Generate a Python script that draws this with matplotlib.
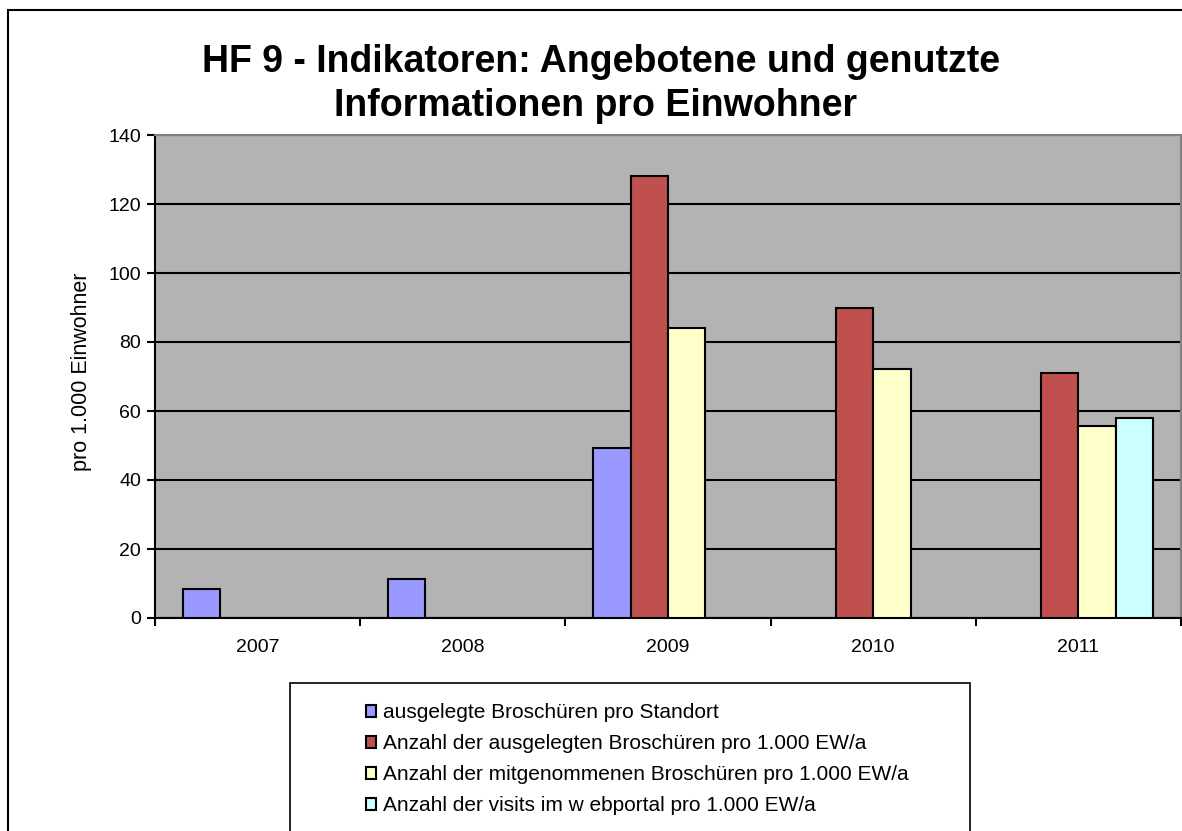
import numpy as np
import matplotlib
matplotlib.use("Agg")
from matplotlib import pyplot as plt
from matplotlib.patches import Rectangle

plt.rcParams['font.family'] = ['Liberation Sans', 'DejaVu Sans']

years = ['2007', '2008', '2009', '2010', '2011']
standort = [8.5, 11.3, 49.4, 0, 0]
ausgelegt = [0, 0, 128.0, 89.9, 71.1]
mitgenommen = [0, 0, 84.2, 72.2, 55.7]
visits = [0, 0, 0, 0, 58.0]

labels = ['ausgelegte Broschüren pro Standort',
          'Anzahl der ausgelegten Broschüren pro 1.000 EW/a',
          'Anzahl der mitgenommenen Broschüren pro 1.000 EW/a',
          'Anzahl der visits im w ebportal pro 1.000 EW/a']
colors = ['#9999FF', '#C0504D', '#FFFFCC', '#CCFFFF']
series = [standort, ausgelegt, mitgenommen, visits]

W, H = 1182, 831
fig = plt.figure(figsize=(W / 100, H / 100), dpi=100)
ax = fig.add_axes([155 / W, 1 - 618 / H, (1181 - 155) / W, (618 - 135) / H])
ax.set_facecolor('#B3B3B3')

x = np.arange(len(years))
w = 1 / 5.5
handles = []
for i, (vals, c, lab) in enumerate(zip(series, colors, labels)):
    vals = np.array(vals, dtype=float)
    mask = vals > 0
    b = ax.bar(x[mask] + (i - 1.5) * w, vals[mask], width=w, color=c,
               edgecolor='black', linewidth=1.5, zorder=3, label=lab)
    handles.append(b)

ax.set_xlim(-0.5, 4.5)
ax.set_ylim(0, 140)
ax.set_yticks(np.arange(0, 141, 20))
ax.yaxis.grid(True, color='black', linewidth=1.5, zorder=1)
ax.set_axisbelow(True)

# category ticks between the groups, year labels in the middle
ax.set_xticks(np.arange(-0.5, 5, 1))
ax.set_xticklabels([])
ax.set_xticks(x, minor=True)
ax.set_xticklabels(years, minor=True)
ax.tick_params(axis='x', which='minor', length=0, pad=15, labelsize=14)
ax.tick_params(axis='x', which='major', length=6, width=1.5, direction='out')
ax.tick_params(axis='y', length=6, width=1.5, direction='out', labelsize=14, pad=4)

ax.spines['left'].set_linewidth(1.5)
ax.spines['bottom'].set_linewidth(1.5)
ax.spines['top'].set_color('#808080')
ax.spines['right'].set_color('#808080')
ax.spines['top'].set_linewidth(1.5)
ax.spines['right'].set_linewidth(1.5)

fig.text(82 / W, 1 - 372 / H, 'pro 1.000 Einwohner', rotation=90,
         ha='center', va='center', fontsize=15.5)

fig.text(601 / W, 1 - 71.7 / H, 'HF 9 - Indikatoren: Angebotene und genutzte',
         ha='center', va='baseline', fontsize=27, fontweight='bold')
fig.text(596 / W, 1 - 116 / H, 'Informationen pro Einwohner',
         ha='center', va='baseline', fontsize=27, fontweight='bold')

# outer chart border (cut off at right/bottom)
fig.patches.append(Rectangle((8 / W, -0.1), 1.2, 1.1 - 10 / H, transform=fig.transFigure,
                             fill=False, edgecolor='black', linewidth=1.5))
# legend box
fig.patches.append(Rectangle((290 / W, -0.1), (970 - 290) / W, 0.1 + 1 - 683 / H,
                             transform=fig.transFigure, fill=False,
                             edgecolor='black', linewidth=1.2))

fig.legend(handles=handles, loc='upper left',
           bbox_to_anchor=(366 / W, 1 - 703 / H), frameon=False, fontsize=15,
           handlelength=0.5, handleheight=0.5, handletextpad=0.3,
           labelspacing=0.58, borderpad=0, borderaxespad=0)

fig.savefig('out.png', dpi=100)
